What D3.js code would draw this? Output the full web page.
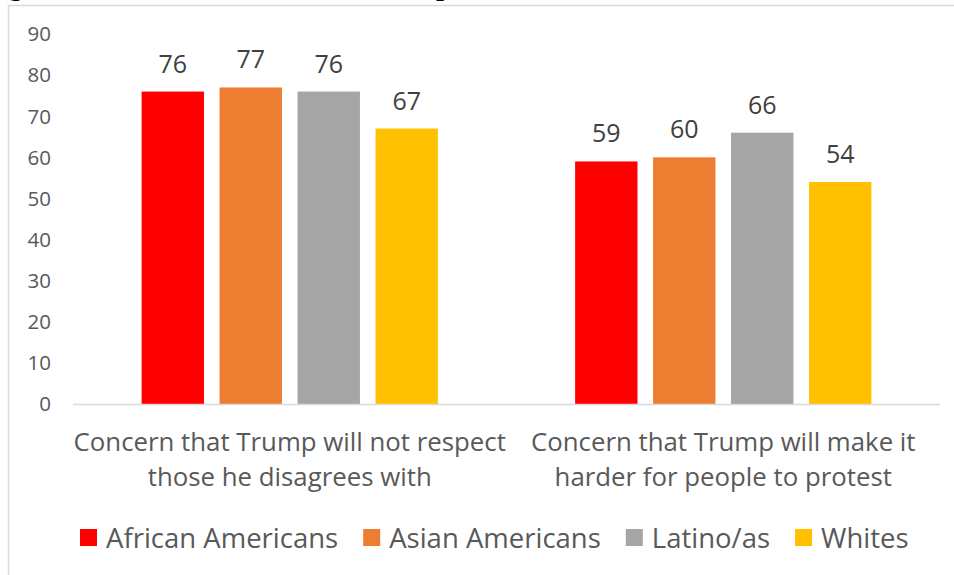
<!DOCTYPE html>
<html>
<head>
<meta charset="utf-8">
<script src="https://cdn.jsdelivr.net/npm/d3@7"></script>
<style>
    html, body { margin: 0; padding: 0; background: #fff; }
    svg { display: block; }
    text { font-family: "Open Sans", Lato, sans-serif; }
</style>
</head>
<body>
<div id="chart"></div>
<script>
const categories = [
    ["Concern that Trump will not respect", "those he disagrees with"],
    ["Concern that Trump will make it", "harder for people to protest"]
];
const seriesNames = ["African Americans", "Asian Americans", "Latino/as", "Whites"];
const seriesColors = ["#ff0000", "#ed7d31", "#a5a5a5", "#ffc000"];
const values = [
    [76, 77, 76, 67],
    [59, 60, 66, 54]
];
const yTicks = [0, 10, 20, 30, 40, 50, 60, 70, 80, 90];

const width = 954;
const height = 575;
const margin = { left: 73, right: 14, top: 34, bottom: 171 };

const svg = d3.select("#chart").append("svg")
    .attr("width", width)
    .attr("height", height);

// title line cut off at the top of the crop
svg.append("text")
    .attr("x", 9)
    .attr("y", -4)
    .style("font-family", "'DejaVu Serif', serif")
    .style("font-weight", "bold")
    .style("font-size", "22px")
    .attr("fill", "#000")
    .text("g");
svg.append("text")
    .attr("x", 436)
    .attr("y", -4)
    .style("font-family", "'DejaVu Serif', serif")
    .style("font-weight", "bold")
    .style("font-size", "22px")
    .attr("fill", "#000")
    .text("p");

// chart frame
svg.append("path")
    .attr("d", `M8.5,${height + 2}V5.5H${width + 2}`)
    .attr("fill", "none")
    .attr("stroke", "#d9d9d9")
    .attr("stroke-width", 1.5);

const x0 = d3.scaleBand()
    .domain(d3.range(categories.length))
    .range([margin.left, width - margin.right]);

const x1 = d3.scaleBand()
    .domain(seriesNames)
    .range([0, x0.bandwidth()])
    .paddingInner(0.2)
    .paddingOuter(0.88);

const y = d3.scaleLinear()
    .domain([0, 90])
    .range([height - margin.bottom, margin.top]);

// y tick labels (no axis line)
svg.append("g")
    .selectAll("text")
    .data(yTicks)
    .join("text")
    .attr("x", 51)
    .attr("y", d => y(d))
    .attr("dy", "0.36em")
    .attr("text-anchor", "end")
    .attr("fill", "#595959")
    .style("font-size", "20.5px")
    .text(d => d);

const groups = svg.append("g")
    .selectAll("g")
    .data(values)
    .join("g")
    .attr("transform", (d, i) => `translate(${x0(i)},0)`);

groups.selectAll("rect")
    .data(d => d.map((v, j) => ({ v, name: seriesNames[j], color: seriesColors[j] })))
    .join("rect")
    .attr("x", d => x1(d.name))
    .attr("y", d => y(d.v))
    .attr("width", x1.bandwidth())
    .attr("height", d => y(0) - y(d.v))
    .attr("fill", d => d.color);

groups.selectAll("text.val")
    .data(d => d.map((v, j) => ({ v, name: seriesNames[j] })))
    .join("text")
    .attr("class", "val")
    .attr("x", d => x1(d.name) + x1.bandwidth() / 2)
    .attr("y", d => y(d.v) - 19)
    .attr("text-anchor", "middle")
    .attr("fill", "#404040")
    .style("font-size", "25px")
    .text(d => d.v);

// baseline
svg.append("line")
    .attr("x1", margin.left)
    .attr("x2", width - margin.right)
    .attr("y1", y(0) + 0.5)
    .attr("y2", y(0) + 0.5)
    .attr("stroke", "#d9d9d9")
    .attr("stroke-width", 1.5);

// category labels
const catLabels = svg.append("g")
    .selectAll("text")
    .data(categories)
    .join("text")
    .attr("text-anchor", "middle")
    .attr("fill", "#595959")
    .style("font-size", "25.8px");

catLabels.selectAll("tspan")
    .data((d, i) => d.map(line => ({ line, i })))
    .join("tspan")
    .attr("x", d => x0(d.i) + x0.bandwidth() / 2)
    .attr("y", (d, k) => 451 + k * 35)
    .text(d => d.line);

// legend
const legend = svg.append("g").attr("transform", "translate(80,538)");
let lx = 0;
seriesNames.forEach((name, i) => {
    const item = legend.append("g").attr("transform", `translate(${lx},0)`);
    item.append("rect")
        .attr("x", 0)
        .attr("y", -9)
        .attr("width", 17)
        .attr("height", 17)
        .attr("fill", seriesColors[i]);
    const t = item.append("text")
        .attr("x", 26)
        .attr("y", 0)
        .attr("dy", "0.36em")
        .attr("fill", "#595959")
        .style("font-size", "27.5px")
        .text(name);
    lx += 26 + t.node().getComputedTextLength() + 25;
});
</script>
</body>
</html>
